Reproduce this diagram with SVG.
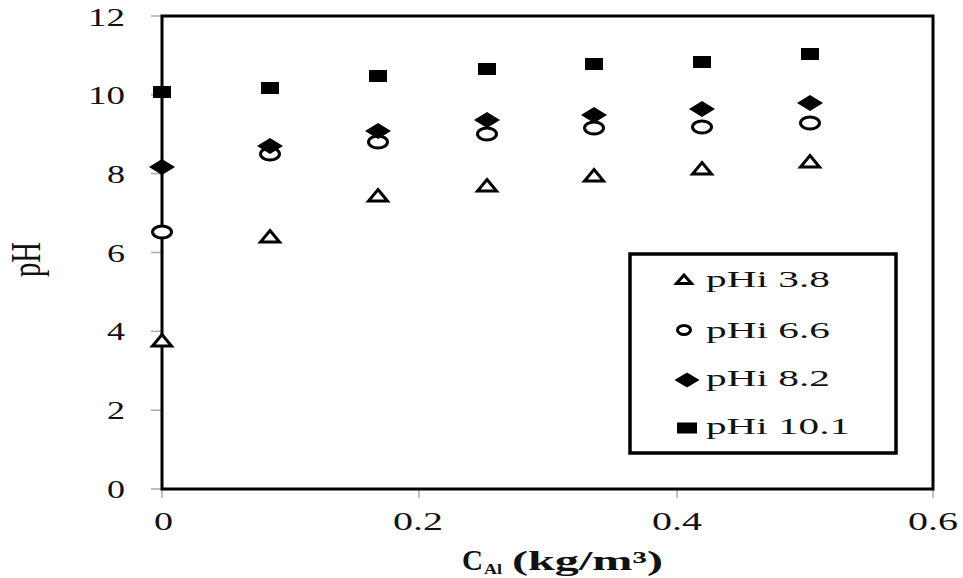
<svg xmlns="http://www.w3.org/2000/svg" xmlns:xlink="http://www.w3.org/1999/xlink" width="963" height="578" viewBox="0 0 963 578">
<style>
  text { font-family: "Liberation Serif", "Times New Roman", serif; fill: #111; }
  .tick { font-size: 25px; }
  .leg { font-size: 23px; }
  .title { font-size: 27px; font-weight: bold; }
  .ytitle { font-size: 26px; }
  .tk { stroke: #aaa; stroke-width: 1.5; }
  .frame { fill: none; stroke: #000; stroke-width: 3; }
  .hollow { fill: #fff; stroke: #000; stroke-width: 3; }
  .solid { fill: #000; }
</style>
<defs>
  <rect id="sq" class="solid" x="-9" y="-6" width="18" height="12"/>
  <polygon id="dm" class="solid" points="0,-8 13,0 0,8 -13,0"/>
  <ellipse id="ci" class="hollow" cx="0" cy="0" rx="9.5" ry="6"/>
  <polygon id="tr" class="hollow" points="0,-5.5 9.5,6 -9.5,6"/>
  <rect id="lsq" class="solid" x="-10" y="-5.5" width="20" height="11"/>
  <polygon id="ldm" class="solid" points="0,-7.5 12.5,0 0,7.5 -12.5,0"/>
  <ellipse id="lci" class="hollow" cx="0" cy="0" rx="6.5" ry="4.5" stroke-width="2.5"/>
  <polygon id="ltr" class="hollow" points="0,-4 7.5,4.5 -7.5,4.5" stroke-width="3"/>
</defs>

<g id="axes">
  <line class="tk" x1="151" y1="16" x2="162" y2="16"/>
  <line class="tk" x1="151" y1="94.8" x2="162" y2="94.8"/>
  <line class="tk" x1="151" y1="173.6" x2="162" y2="173.6"/>
  <line class="tk" x1="151" y1="252.5" x2="162" y2="252.5"/>
  <line class="tk" x1="151" y1="331.3" x2="162" y2="331.3"/>
  <line class="tk" x1="151" y1="410.2" x2="162" y2="410.2"/>
  <line class="tk" x1="151" y1="489" x2="162" y2="489"/>
  <line class="tk" x1="162" y1="489" x2="162" y2="498"/>
  <line class="tk" x1="419" y1="489" x2="419" y2="498"/>
  <line class="tk" x1="677" y1="489" x2="677" y2="498"/>
  <line class="tk" x1="933" y1="489" x2="933" y2="498"/>
  <rect class="frame" x="162" y="16" width="771" height="473"/>

  <text class="tick" x="88" y="26" textLength="37" lengthAdjust="spacingAndGlyphs">12</text>
  <text class="tick" x="88" y="104" textLength="37" lengthAdjust="spacingAndGlyphs">10</text>
  <text class="tick" x="107" y="183" textLength="18" lengthAdjust="spacingAndGlyphs">8</text>
  <text class="tick" x="107" y="262" textLength="18" lengthAdjust="spacingAndGlyphs">6</text>
  <text class="tick" x="107" y="340" textLength="18" lengthAdjust="spacingAndGlyphs">4</text>
  <text class="tick" x="107" y="419" textLength="18" lengthAdjust="spacingAndGlyphs">2</text>
  <text class="tick" x="107" y="498" textLength="18" lengthAdjust="spacingAndGlyphs">0</text>

  <text class="tick" x="154" y="530" textLength="19" lengthAdjust="spacingAndGlyphs">0</text>
  <text class="tick" x="393" y="530" textLength="50" lengthAdjust="spacingAndGlyphs">0.2</text>
  <text class="tick" x="652" y="530" textLength="50" lengthAdjust="spacingAndGlyphs">0.4</text>
  <text class="tick" x="908" y="530" textLength="50" lengthAdjust="spacingAndGlyphs">0.6</text>

  <text class="ytitle" transform="translate(40,277) scale(1.6,1) rotate(-90)" x="0" y="0" textLength="35" lengthAdjust="spacingAndGlyphs">pH</text>
  <text class="title"><tspan x="462" y="570" font-size="29" textLength="21" lengthAdjust="spacingAndGlyphs">C</tspan><tspan x="484" y="574" font-size="14" textLength="18" lengthAdjust="spacingAndGlyphs">Al</tspan><tspan x="512" y="570" textLength="151" lengthAdjust="spacingAndGlyphs">(kg/m³)</tspan></text>
</g>

<g id="series-pHi-3.8">
  <use xlink:href="#tr" x="162" y="340"/>
  <use xlink:href="#tr" x="270" y="236"/>
  <use xlink:href="#tr" x="378" y="195"/>
  <use xlink:href="#tr" x="487" y="185"/>
  <use xlink:href="#tr" x="594" y="175"/>
  <use xlink:href="#tr" x="702" y="168"/>
  <use xlink:href="#tr" x="810" y="161"/>
</g>
<g id="series-pHi-6.6">
  <use xlink:href="#ci" x="162" y="232"/>
  <use xlink:href="#ci" x="270" y="154"/>
  <use xlink:href="#ci" x="378" y="142"/>
  <use xlink:href="#ci" x="487" y="134"/>
  <use xlink:href="#ci" x="594" y="128"/>
  <use xlink:href="#ci" x="702" y="127"/>
  <use xlink:href="#ci" x="810" y="123"/>
</g>
<g id="series-pHi-8.2">
  <use xlink:href="#dm" x="162" y="167"/>
  <use xlink:href="#dm" x="270" y="146"/>
  <use xlink:href="#dm" x="378" y="131"/>
  <use xlink:href="#dm" x="487" y="120"/>
  <use xlink:href="#dm" x="594" y="115"/>
  <use xlink:href="#dm" x="702" y="109"/>
  <use xlink:href="#dm" x="810" y="103"/>
</g>
<g id="series-pHi-10.1">
  <use xlink:href="#sq" x="162" y="92"/>
  <use xlink:href="#sq" x="270" y="88"/>
  <use xlink:href="#sq" x="378" y="76"/>
  <use xlink:href="#sq" x="487" y="69"/>
  <use xlink:href="#sq" x="594" y="64"/>
  <use xlink:href="#sq" x="702" y="62"/>
  <use xlink:href="#sq" x="810" y="54"/>
</g>

<g id="legend">
  <rect x="630" y="254" width="266" height="199" fill="#fff" stroke="#000" stroke-width="3.5"/>
  <use xlink:href="#ltr" x="684" y="279"/>
  <text class="leg" x="706" y="287" textLength="124" lengthAdjust="spacingAndGlyphs">pHi 3.8</text>
  <use xlink:href="#lci" x="684" y="330"/>
  <text class="leg" x="706" y="338" textLength="124" lengthAdjust="spacingAndGlyphs">pHi 6.6</text>
  <use xlink:href="#ldm" x="687" y="380"/>
  <text class="leg" x="706" y="386" textLength="124" lengthAdjust="spacingAndGlyphs">pHi 8.2</text>
  <use xlink:href="#lsq" x="687" y="428"/>
  <text class="leg" x="706" y="434" textLength="144" lengthAdjust="spacingAndGlyphs">pHi 10.1</text>
</g>
</svg>
